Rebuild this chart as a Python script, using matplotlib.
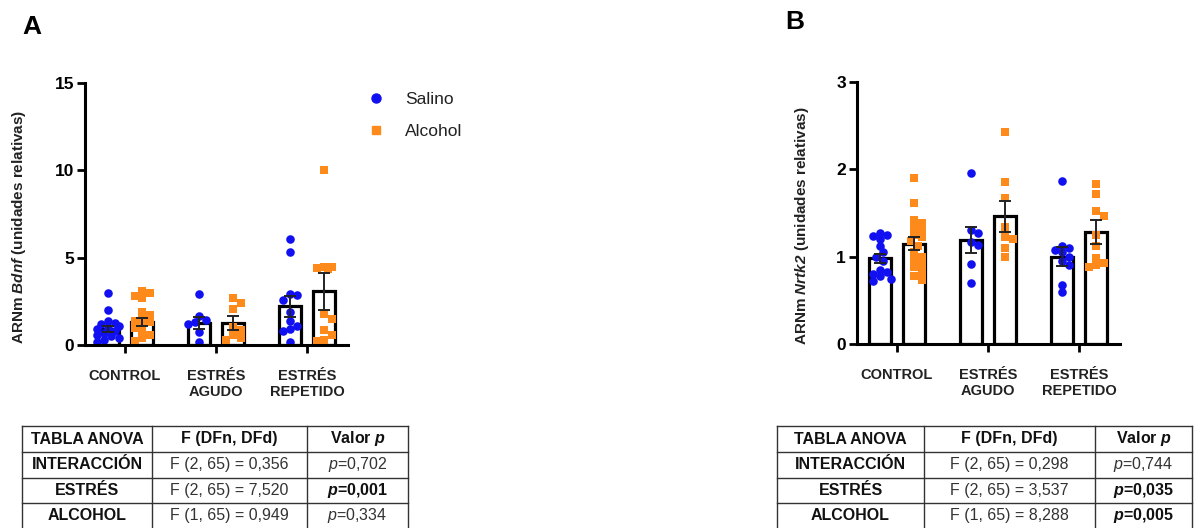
import matplotlib.pyplot as plt
from matplotlib.lines import Line2D

plt.rcParams['font.family'] = ['Liberation Sans', 'DejaVu Sans']
plt.rcParams['mathtext.fontset'] = 'custom'
plt.rcParams['mathtext.rm'] = 'Liberation Sans'
plt.rcParams['mathtext.it'] = 'Liberation Sans:italic'
plt.rcParams['mathtext.bf'] = 'Liberation Sans:bold'
plt.rcParams['mathtext.bfit'] = 'Liberation Sans:italic:bold'

groups = ['CONTROL', 'ESTRÉS\nAGUDO', 'ESTRÉS\nREPETIDO']

# panel A: Bdnf
bdnf_sal = [[3.0, 2.0, 1.35, 1.25, 1.2, 1.1, 0.95, 0.9, 0.8, 0.7, 0.6, 0.5, 0.4, 0.3, 0.2],
            [2.9, 1.65, 1.45, 1.3, 1.2, 0.75, 0.15],
            [6.05, 5.3, 2.9, 2.85, 2.6, 1.9, 1.4, 1.1, 0.9, 0.8, 0.2]]
bdnf_alc = [[3.1, 2.95, 2.8, 2.7, 1.9, 1.7, 1.5, 1.4, 1.3, 1.2, 1.0, 0.8, 0.6, 0.4, 0.25],
            [2.7, 2.4, 2.05, 1.05, 0.85, 0.6, 0.4, 0.3],
            [10.0, 4.45, 4.45, 4.4, 4.35, 1.75, 1.5, 0.85, 0.6, 0.3, 0.25]]
bdnf_sal_mean = [0.92, 1.26, 2.23]
bdnf_sal_sem = [0.17, 0.37, 0.6]
bdnf_alc_mean = [1.3, 1.25, 3.07]
bdnf_alc_sem = [0.22, 0.39, 1.07]

# panel B: Nrtk2
nrtk2_sal = [[1.27, 1.25, 1.24, 1.2, 1.12, 1.05, 1.0, 0.95, 0.85, 0.82, 0.8, 0.78, 0.75, 0.72],
             [1.96, 1.3, 1.27, 1.17, 1.13, 0.92, 0.7],
             [1.87, 1.12, 1.1, 1.08, 1.05, 1.0, 0.95, 0.9, 0.68, 0.6]]
nrtk2_alc = [[1.9, 1.62, 1.42, 1.38, 1.33, 1.3, 1.25, 1.22, 1.18, 1.12, 1.05, 1.0, 0.96, 0.92, 0.88, 0.82, 0.78, 0.73],
             [2.43, 1.85, 1.67, 1.34, 1.22, 1.2, 1.1, 1.0],
             [1.83, 1.72, 1.52, 1.47, 1.25, 1.12, 0.98, 0.93, 0.9, 0.88]]
nrtk2_sal_mean = [0.98, 1.19, 1.0]
nrtk2_sal_sem = [0.05, 0.145, 0.11]
nrtk2_alc_mean = [1.15, 1.46, 1.28]
nrtk2_alc_sem = [0.07, 0.18, 0.135]

table_header = ['TABLA ANOVA', 'F (DFn, DFd)', r'Valor $\mathbfit{p}$']
table_rows = ['INTERACCIÓN', 'ESTRÉS', 'ALCOHOL']
bdnf_F = ['F (2, 65) = 0,356', 'F (2, 65) = 7,520', 'F (1, 65) = 0,949']
bdnf_p = ['0,702', '0,001', '0,334']
nrtk2_F = ['F (2, 65) = 0,298', 'F (2, 65) = 3,537', 'F (1, 65) = 8,288']
nrtk2_p = ['0,744', '0,035', '0,005']

blue = '#1010F0'
orange = '#FF8A1C'
W, H = 1194, 528


def swarm(vals, x0, px_x, px_y, d=8.0):
    placed = []
    xs = []
    for v in vals:
        y = v * px_y
        best, best_score = 0.0, -1
        for k in [0, 1, -1, 2, -2, 3, -3]:
            x = k * d * 0.45
            if placed:
                score = min(((x - a) ** 2 + (y - b) ** 2) ** 0.5 for a, b in placed)
            else:
                score = 1e9
            if score >= 0.8 * d:
                best = x
                break
            if score > best_score:
                best, best_score = x, score
        placed.append((best, y))
        xs.append(x0 + best / px_x)
    return xs


def panel(rect, sal, alc, sal_m, sal_e, alc_m, alc_e, ymax, step, gene, lab_x):
    ax = fig.add_axes(rect)
    xlim = (-0.44, 2.45)
    ax.set_xlim(*xlim)
    ax.set_ylim(0, ymax)
    px_x = rect[2] * W / (xlim[1] - xlim[0])
    px_y = rect[3] * H / ymax
    off, bw = 0.19, 0.24
    for i in range(3):
        for x0, vals, m, e, col, mk in [(i - off, sal[i], sal_m[i], sal_e[i], blue, 'o'),
                                        (i + off, alc[i], alc_m[i], alc_e[i], orange, 's')]:
            ax.bar(x0, m, width=bw, color='white', edgecolor='black', linewidth=2.3, zorder=1)
            ax.scatter(swarm(vals, x0, px_x, px_y), vals, s=38, marker=mk, color=col,
                       linewidths=0, zorder=2, clip_on=False)
            ax.errorbar(x0, m, yerr=e, color='#222222', elinewidth=1.4, capsize=4,
                        capthick=1.4, zorder=3)
    for s in ['top', 'right']:
        ax.spines[s].set_visible(False)
    for s in ['left', 'bottom']:
        ax.spines[s].set_linewidth(2.2)
    ax.set_yticks([step * k for k in range(int(ymax / step) + 1)])
    ax.set_xticks(range(3))
    ax.set_xticklabels(groups, fontsize=10.5, fontweight='bold', linespacing=1.25,
                       color='#222222')
    ax.tick_params(axis='both', direction='out', length=6, width=2)
    ax.tick_params(axis='x', pad=11)
    ax.tick_params(axis='y', pad=2, labelsize=12.5)
    for t in ax.get_yticklabels():
        t.set_fontweight('bold')
    ax.set_ylabel('ARNm $\\mathbfit{' + gene + '}$ (unidades relativas)',
                  fontsize=11, fontweight='bold', color='#222222')
    ax.yaxis.set_label_coords(lab_x, 0.45)
    return ax


fig = plt.figure(figsize=(W / 100, H / 100), dpi=100)

axA = panel([85 / W, 1 - 345 / H, 263 / W, 262 / H], bdnf_sal, bdnf_alc,
            bdnf_sal_mean, bdnf_sal_sem, bdnf_alc_mean, bdnf_alc_sem, 15, 5, 'Bdnf', -0.215)
axB = panel([857 / W, 1 - 344 / H, 263 / W, 262 / H], nrtk2_sal, nrtk2_alc,
            nrtk2_sal_mean, nrtk2_sal_sem, nrtk2_alc_mean, nrtk2_alc_sem, 3, 1, 'Nrtk2', -0.175)

fig.text(32 / W, 1 - 27 / H, 'A', fontsize=19, fontweight='bold', ha='center', va='center')
fig.text(795 / W, 1 - 22 / H, 'B', fontsize=19, fontweight='bold', ha='center', va='center')

handles = [Line2D([], [], linestyle='none', marker='o', markersize=6.5, color=blue),
           Line2D([], [], linestyle='none', marker='s', markersize=6, color=orange)]
fig.legend(handles, ['Salino', 'Alcohol'], loc='upper left',
           bbox_to_anchor=(367 / W, 1 - 92 / H), frameon=False, fontsize=12.5,
           handlelength=1.0, handletextpad=1.2, labelspacing=0.95,
           borderpad=0, borderaxespad=0, labelcolor='#222222')

# ANOVA tables drawn in pixel coordinates
ov = fig.add_axes([0, 0, 1, 1], zorder=-1)
ov.set_xlim(0, W)
ov.set_ylim(H, 0)
ov.axis('off')


def table(cols, Fs, ps):
    rows_y = [426, 452, 477.5, 503]
    lc = '#333333'
    for y in rows_y:
        ov.plot([cols[0], cols[-1]], [y, y], color=lc, lw=1.0)
    for x in cols:
        ov.plot([x, x], [rows_y[0], H], color=lc, lw=1.0)
    cx = [(cols[k] + cols[k + 1]) / 2 for k in range(3)]
    cy = [(rows_y[k] + rows_y[k + 1]) / 2 if k < 3 else (rows_y[3] + H) / 2 for k in range(4)]
    for k, t in enumerate(table_header):
        ov.text(cx[k], cy[0], t, ha='center', va='center', fontsize=11.5, fontweight='bold',
                color='#111111')
    for r in range(3):
        ov.text(cx[0], cy[r + 1], table_rows[r], ha='center', va='center', fontsize=11.5,
                fontweight='bold', color='#111111')
        ov.text(cx[1], cy[r + 1], Fs[r], ha='center', va='center', fontsize=11.5,
                color='#333333')
        sig = float(ps[r].replace(',', '.')) < 0.05
        if sig:
            ov.text(cx[2], cy[r + 1], r'$\mathbfit{p}$=' + ps[r], ha='center', va='center',
                    fontsize=11.5, fontweight='bold', color='#111111')
        else:
            ov.text(cx[2], cy[r + 1], r'$p$=' + ps[r], ha='center', va='center',
                    fontsize=11.5, color='#333333')


table([22, 152, 307, 408], bdnf_F, bdnf_p)
table([777, 924, 1095, 1192], nrtk2_F, nrtk2_p)

fig.savefig('out.png', dpi=100)
